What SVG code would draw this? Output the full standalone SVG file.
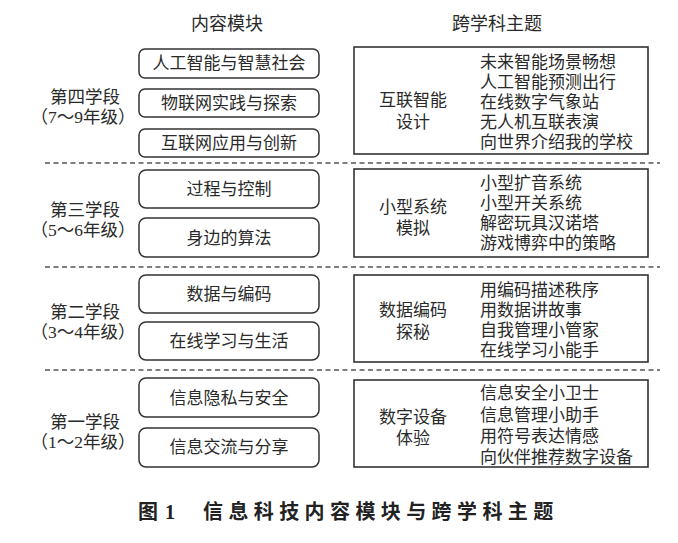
<svg xmlns="http://www.w3.org/2000/svg" width="678" height="543" viewBox="0 0 678 543">
<style>
text{font-family:"Liberation Serif","Noto Sans CJK SC","Noto Sans CJK JP",serif;fill:#2a2a2a;dominant-baseline:central}
.hd{font-size:18px;text-anchor:middle}
.mod rect{fill:#fff;stroke:#333;stroke-width:1.5}
.mod text{font-size:17px;text-anchor:middle}
.stage text{font-size:17.5px;text-anchor:middle}
.theme rect{fill:#fff;stroke:#333;stroke-width:1.6}
.theme text{font-size:17px}
.theme .t{text-anchor:middle}
.dash{stroke:#555;stroke-width:1.3;stroke-dasharray:5 3.5}
.cap{font-size:20px;font-weight:bold;fill:#222}
</style>
<rect width="678" height="543" fill="#fff"/>
<text class="hd" x="227" y="24">内容模块</text>
<text class="hd" x="497" y="24">跨学科主题</text>

<g id="dividers">
<line class="dash" x1="45" y1="163" x2="660" y2="163"/>
<line class="dash" x1="45" y1="267" x2="660" y2="267"/>
<line class="dash" x1="45" y1="370" x2="660" y2="370"/>
</g>

<g id="stage4" class="stage"><text x="85" y="97">第四学段</text><text x="83" y="117">（7～9年级）</text></g>
<g id="stage3" class="stage"><text x="85" y="210">第三学段</text><text x="83" y="230">（5～6年级）</text></g>
<g id="stage2" class="stage"><text x="85" y="312">第二学段</text><text x="83" y="332">（3～4年级）</text></g>
<g id="stage1" class="stage"><text x="85" y="422">第一学段</text><text x="83" y="442">（1～2年级）</text></g>

<g id="m1" class="mod"><rect x="139" y="49" width="180" height="29" rx="6"/><text x="229" y="63.5">人工智能与智慧社会</text></g>
<g id="m2" class="mod"><rect x="139" y="89" width="180" height="28" rx="6"/><text x="229" y="103">物联网实践与探索</text></g>
<g id="m3" class="mod"><rect x="139" y="129" width="180" height="28" rx="6"/><text x="229" y="143">互联网应用与创新</text></g>
<g id="m4" class="mod"><rect x="139" y="170" width="180" height="38" rx="7"/><text x="229" y="189">过程与控制</text></g>
<g id="m5" class="mod"><rect x="139" y="218" width="180" height="39" rx="7"/><text x="229" y="238">身边的算法</text></g>
<g id="m6" class="mod"><rect x="139" y="275" width="180" height="38" rx="7"/><text x="229" y="294">数据与编码</text></g>
<g id="m7" class="mod"><rect x="139" y="322" width="180" height="38" rx="7"/><text x="229" y="341">在线学习与生活</text></g>
<g id="m8" class="mod"><rect x="139" y="378" width="180" height="39" rx="7"/><text x="229" y="398">信息隐私与安全</text></g>
<g id="m9" class="mod"><rect x="139" y="428" width="180" height="39" rx="7"/><text x="229" y="447">信息交流与分享</text></g>

<g id="t1" class="theme"><rect x="354" y="47" width="294" height="107"/>
<text class="t" x="413" y="100">互联智能</text><text class="t" x="413" y="122">设计</text>
<text x="480" y="62">未来智能场景畅想</text><text x="480" y="82">人工智能预测出行</text><text x="480" y="102">在线数字气象站</text><text x="480" y="122">无人机互联表演</text><text x="480" y="142">向世界介绍我的学校</text></g>
<g id="t2" class="theme"><rect x="354" y="169" width="294" height="88"/>
<text class="t" x="413" y="207">小型系统</text><text class="t" x="413" y="228">模拟</text>
<text x="480" y="183">小型扩音系统</text><text x="480" y="203">小型开关系统</text><text x="480" y="223">解密玩具汉诺塔</text><text x="480" y="243">游戏博弈中的策略</text></g>
<g id="t3" class="theme"><rect x="354" y="275" width="294" height="87"/>
<text class="t" x="413" y="310">数据编码</text><text class="t" x="413" y="332">探秘</text>
<text x="480" y="290">用编码描述秩序</text><text x="480" y="310">用数据讲故事</text><text x="480" y="330">自我管理小管家</text><text x="480" y="350">在线学习小能手</text></g>
<g id="t4" class="theme"><rect x="354" y="380" width="294" height="87"/>
<text class="t" x="413" y="417">数字设备</text><text class="t" x="413" y="438">体验</text>
<text x="480" y="393">信息安全小卫士</text><text x="480" y="415">信息管理小助手</text><text x="480" y="436">用符号表达情感</text><text x="480" y="457">向伙伴推荐数字设备</text></g>

<g id="caption">
<text class="cap" x="138" y="512">图</text>
<text class="cap" x="165" y="512">1</text>
<text class="cap" x="203" y="512" letter-spacing="5.4">信息科技内容模块与跨学科主题</text>
</g>
</svg>
